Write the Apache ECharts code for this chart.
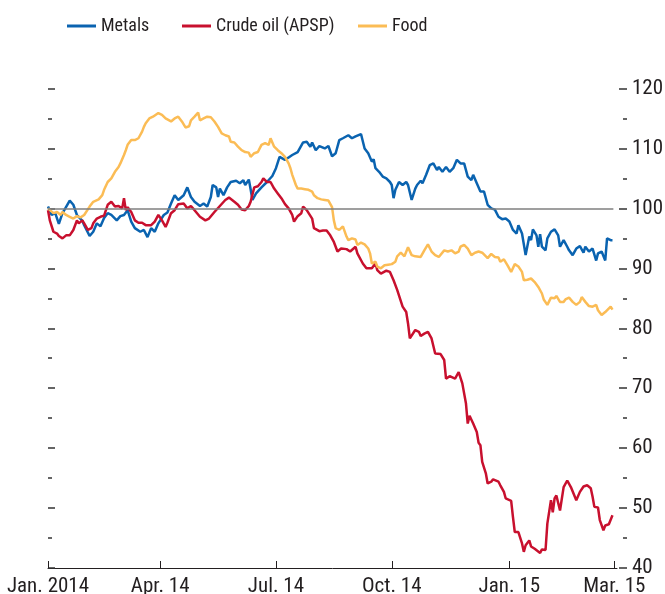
<!DOCTYPE html>
<html>
<head>
<meta charset="utf-8">
<title>Commodity prices</title>
<script src="https://cdn.jsdelivr.net/npm/echarts@6/dist/echarts.min.js"></script>
<style>
    html, body { margin: 0; padding: 0; background: #fff; }
    #chart { width: 665px; height: 594px; }
</style>
</head>
<body>
<div id="chart"></div>
<script>
// x = trading days since 2 Jan 2014, y = index (Jan 2014 = 100)
var tickDays = [0, 62, 126, 190, 255, 313];
var tickLabels = ['Jan. 2014', 'Apr. 14', 'Jul. 14', 'Oct. 14', 'Jan. 15', 'Mar. 15'];
var seriesNames = ['Metals', 'Crude oil (APSP)', 'Food'];
var seriesColors = ['#0a63b0', '#c8102e', '#fbbc55'];
var baseLine = 100;

var metals = [
    [0,100.3],[2,98.9],[4,99.2],[6,97.4],[8,99.2],[9,99.7],[12,101.3],[14,100.6],[16,98.9],[19,97.9],
    [20,97.2],[23,95.4],[25,96.1],[27,97.5],[29,97.0],[31,98.4],[33,99.2],[35,98.9],[38,98.0],[40,98.7],
    [42,98.9],[44,99.7],[46,97.8],[48,96.7],[51,96.1],[53,96.4],[55,95.2],[57,96.7],[59,96.1],[61,97.5],
    [64,98.9],[66,99.3],[68,100.8],[70,102.2],[72,101.4],[75,102.2],[77,103.5],[79,101.9],[81,101.1],[84,100.4],
    [86,100.8],[88,100.3],[90,101.9],[91,103.9],[93,103.5],[94,101.9],[95,103.3],[97,102.2],[99,103.5],[101,104.4],
    [104,104.6],[106,104.2],[108,104.7],[109,103.9],[111,104.8],[112,103.2],[113,101.4],[115,102.5],[118,103.5],[121,104.4],
    [124,105.4],[126,106.7],[128,108.6],[129,108.9],[131,108.1],[133,108.5],[135,108.9],[138,109.4],[141,111.0],[143,111.1],
    [145,110.3],[146,111.0],[148,109.7],[150,110.4],[153,110.0],[155,110.4],[157,108.7],[158,108.9],[159,109.2],[161,111.4],
    [163,111.7],[166,112.2],[168,111.7],[170,112.0],[171,111.7],[173,112.4],[174,112.2],[175,110.0],[177,109.2],[179,107.8],
    [180,108.2],[181,106.7],[183,106.1],[185,105.3],[187,105.0],[189,104.4],[190,103.9],[191,101.7],[192,103.1],[194,104.4],
    [196,103.9],[198,104.4],[199,103.9],[201,101.4],[203,103.3],[204,103.9],[206,104.6],[207,104.2],[209,105.6],[211,107.2],
    [213,107.5],[215,106.4],[216,106.9],[218,106.1],[220,106.9],[222,106.1],[224,106.7],[226,108.1],[228,107.5],[230,107.5],
    [232,105.3],[234,104.7],[235,105.6],[237,104.2],[239,102.8],[241,102.8],[243,100.6],[245,100.0],[247,99.8],[249,98.6],
    [251,98.2],[253,98.3],[255,97.8],[257,96.4],[259,95.8],[260,97.2],[262,95.8],[264,92.2],[266,95.3],[267,94.7],
    [268,96.5],[270,95.5],[271,93.6],[272,95.7],[273,93.6],[275,93.0],[276,95.0],[278,96.1],[280,96.5],[282,95.5],
    [283,93.6],[285,94.7],[287,93.6],[288,93.0],[290,92.2],[292,93.3],[294,93.7],[296,92.6],[297,93.6],[299,92.8],
    [301,93.3],[303,91.3],[304,92.5],[306,92.8],[308,91.3],[309,95.0],[311,94.7],[312,94.7]
];

var crude = [
    [0,99.7],[1,98.0],[3,96.1],[5,95.8],[6,95.4],[8,95.0],[10,95.5],[12,95.5],[14,96.4],[16,98.0],
    [17,97.5],[19,98.0],[20,97.5],[22,96.4],[24,96.7],[25,97.5],[27,98.3],[29,98.6],[31,98.8],[32,98.9],
    [33,100.6],[35,101.1],[37,100.3],[39,100.4],[41,100.0],[42,101.7],[43,99.7],[44,100.2],[46,99.4],[48,98.0],
    [50,97.6],[52,97.6],[54,97.2],[55,97.5],[57,97.2],[59,97.8],[61,98.9],[63,98.0],[65,96.9],[66,97.6],
    [68,99.2],[70,99.7],[72,100.7],[75,100.8],[77,100.0],[79,100.4],[81,99.7],[84,98.6],[87,98.0],[89,98.3],
    [92,99.4],[95,100.4],[98,101.4],[100,101.8],[101,101.5],[103,101.1],[105,100.6],[107,99.8],[109,99.7],[111,100.4],
    [112,101.1],[114,103.5],[116,103.7],[118,104.4],[119,105.0],[121,104.4],[123,104.4],[125,103.3],[127,102.5],[129,101.7],
    [131,100.7],[133,100.0],[135,98.9],[136,97.8],[138,98.7],[140,99.2],[141,100.3],[143,99.7],[146,98.3],[147,96.7],
    [150,96.2],[152,96.3],[154,96.3],[156,95.5],[158,94.4],[160,92.8],[162,93.3],[165,93.2],[167,92.8],[170,93.6],
    [171,92.5],[174,90.8],[176,90.0],[179,90.0],[181,90.8],[182,89.7],[184,89.1],[187,89.6],[189,89.4],[191,88.0],
    [193,86.4],[194,86.1],[196,83.6],[198,82.7],[199,80.8],[200,78.3],[203,79.7],[205,79.4],[206,78.7],[208,79.1],
    [210,79.4],[212,78.3],[214,75.8],[217,75.7],[219,74.7],[220,71.6],[222,72.0],[225,71.6],[227,72.7],[229,70.8],
    [231,67.5],[232,64.1],[233,65.4],[235,64.1],[237,62.7],[238,60.9],[239,60.5],[240,57.7],[242,55.8],[243,54.1],
    [245,54.4],[246,54.8],[249,54.4],[250,53.8],[252,52.7],[253,51.6],[256,51.2],[257,48.5],[258,46.0],[260,46.0],
    [262,44.1],[263,42.7],[264,43.8],[266,44.6],[267,43.6],[269,43.2],[270,43.1],[272,42.5],[273,43.1],[275,43.0],
    [276,47.4],[278,51.3],[279,49.3],[280,51.6],[281,52.1],[283,49.6],[285,53.5],[287,54.6],[289,53.5],[290,53.3],
    [292,51.3],[294,52.7],[296,53.6],[298,53.8],[300,53.3],[301,51.9],[302,50.2],[304,50.1],[305,48.0],[307,46.3],
    [308,47.1],[310,47.3],[312,48.8]
];

var food = [
    [0,100.0],[3,99.2],[5,99.4],[7,98.9],[8,99.4],[10,98.9],[12,98.6],[14,98.3],[16,98.7],[18,98.5],
    [20,98.9],[21,98.7],[23,100.3],[25,101.1],[28,101.5],[30,102.2],[31,103.1],[33,104.4],[35,105.0],[37,106.1],
    [39,106.9],[40,107.5],[42,108.9],[43,109.7],[44,110.6],[46,111.4],[47,111.1],[48,111.4],[50,111.7],[52,112.8],
    [53,113.6],[54,114.2],[56,115.0],[58,115.3],[61,115.9],[63,115.6],[65,115.0],[66,115.3],[68,114.5],[70,115.0],
    [72,115.3],[74,114.5],[76,113.5],[78,113.7],[79,114.7],[81,115.3],[83,116.0],[84,114.7],[86,115.0],[88,115.3],
    [90,115.2],[92,114.5],[94,113.6],[96,112.5],[98,112.2],[100,112.0],[101,111.1],[103,111.0],[105,110.3],[107,109.7],
    [109,109.4],[111,109.3],[112,108.6],[114,109.2],[116,109.4],[118,110.6],[120,110.9],[122,110.6],[123,111.7],[125,110.3],
    [127,109.7],[129,109.2],[131,108.6],[133,107.5],[134,106.7],[135,105.6],[137,103.9],[138,103.3],[140,103.3],[142,103.2],
    [144,103.1],[146,102.8],[147,102.2],[149,101.7],[151,101.5],[153,101.4],[155,101.3],[157,100.2],[158,98.0],[159,96.7],
    [161,96.4],[163,97.0],[165,95.3],[166,94.7],[168,95.0],[170,94.8],[171,93.9],[173,94.3],[175,94.0],[177,93.3],
    [178,92.5],[179,90.8],[181,91.1],[182,90.3],[184,90.0],[186,90.5],[188,90.6],[190,90.7],[192,91.1],[193,92.0],
    [195,92.6],[197,92.0],[199,93.5],[201,92.2],[203,92.0],[204,92.2],[206,91.9],[208,93.0],[210,94.0],[212,92.8],
    [214,92.2],[216,91.9],[217,91.9],[219,93.0],[221,92.8],[223,93.0],[225,92.5],[227,92.8],[228,93.6],[230,93.9],
    [232,93.3],[234,92.2],[236,92.6],[238,92.8],[240,92.6],[243,91.7],[245,92.4],[247,91.9],[249,91.8],[250,91.1],
    [252,91.5],[254,90.5],[256,89.4],[258,90.7],[260,90.3],[262,89.4],[263,88.0],[265,88.1],[267,88.3],[269,87.7],
    [271,86.9],[273,85.8],[274,84.8],[276,83.9],[278,85.1],[280,85.0],[281,85.4],[283,84.4],[285,84.4],[286,84.8],
    [288,85.1],[290,84.4],[292,83.9],[294,84.4],[295,85.2],[297,84.4],[299,83.7],[301,83.6],[303,83.9],[304,83.0],
    [306,82.2],[308,82.7],[309,82.6],[311,83.6],[312,83.1]
];

var textColor = '#231f20';
var tickColor = '#333';
var font = "'Roboto Condensed', 'DejaVu Sans Condensed', sans-serif";

// one legend per item so each sits where the original puts it
function legendAt(name, left) {
    return {
        data: [name],
        left: left,
        top: 17,
        padding: 0,
        icon: 'rect',
        itemWidth: 29,
        itemHeight: 3,
        textStyle: { color: textColor, fontSize: 18, fontFamily: font },
        selectedMode: false
    };
}

function lineSeries(name, data, color) {
    return {
        name: name,
        type: 'line',
        data: data,
        yAxisIndex: 0,
        showSymbol: false,
        symbol: 'none',
        lineStyle: { color: color, width: 2.5 },
        itemStyle: { color: color }
    };
}

var foodSeries = lineSeries(seriesNames[2], food, seriesColors[2]);
foodSeries.markLine = {
    silent: true,
    symbol: 'none',
    z: 10,
    label: { show: false },
    lineStyle: { color: '#7f7f7f', width: 1.5, type: 'solid' },
    data: [[{ coord: [0, baseLine] }, { coord: [312.5, baseLine] }]]
};

var option = {
    animation: false,
    backgroundColor: '#fff',
    legend: [
        legendAt(seriesNames[0], 67),
        legendAt(seriesNames[1], 182),
        legendAt(seriesNames[2], 358)
    ],
    grid: { left: 48, right: 48, top: 88.5, bottom: 26, outerBoundsMode: 'none', containLabel: false },
    xAxis: {
        type: 'value',
        min: 0,
        max: 314.5,
        splitLine: { show: false },
        axisLine: { show: true, onZero: false, lineStyle: { color: textColor, width: 1 } },
        axisTick: {
            show: true,
            inside: true,
            length: 7,
            customValues: tickDays,
            lineStyle: { color: textColor, width: 1 }
        },
        axisLabel: {
            customValues: tickDays,
            margin: 8,
            color: textColor,
            fontSize: 21,
            fontFamily: font,
            formatter: function (v) {
                var i = tickDays.indexOf(v);
                return i >= 0 ? tickLabels[i] : '';
            }
        }
    },
    yAxis: [
        {
            // labelled scale on the right, dashes standing off the plot
            type: 'value',
            position: 'right',
            offset: 10,
            min: 40,
            max: 120,
            interval: 10,
            splitLine: { show: false },
            axisLine: { show: false, onZero: false },
            axisTick: { show: true, inside: true, length: 8, lineStyle: { color: tickColor, width: 1.5 } },
            minorTick: { show: true, splitNumber: 2, length: 4, lineStyle: { color: tickColor, width: 1.5 } },
            axisLabel: { margin: 5, color: textColor, fontSize: 21, fontFamily: font }
        },
        {
            // unlabelled dashes along the left edge
            type: 'value',
            position: 'left',
            min: 40,
            max: 120,
            interval: 10,
            splitLine: { show: false },
            axisLine: { show: false, onZero: false },
            axisTick: { show: true, inside: true, length: 7, lineStyle: { color: tickColor, width: 1.5 } },
            minorTick: { show: true, splitNumber: 2, length: 4, lineStyle: { color: tickColor, width: 1.5 } },
            axisLabel: { show: false }
        }
    ],
    series: [
        lineSeries(seriesNames[0], metals, seriesColors[0]),
        lineSeries(seriesNames[1], crude, seriesColors[1]),
        foodSeries
    ]
};

var chart = echarts.init(document.getElementById('chart'));
chart.setOption(option);
</script>
</body>
</html>
